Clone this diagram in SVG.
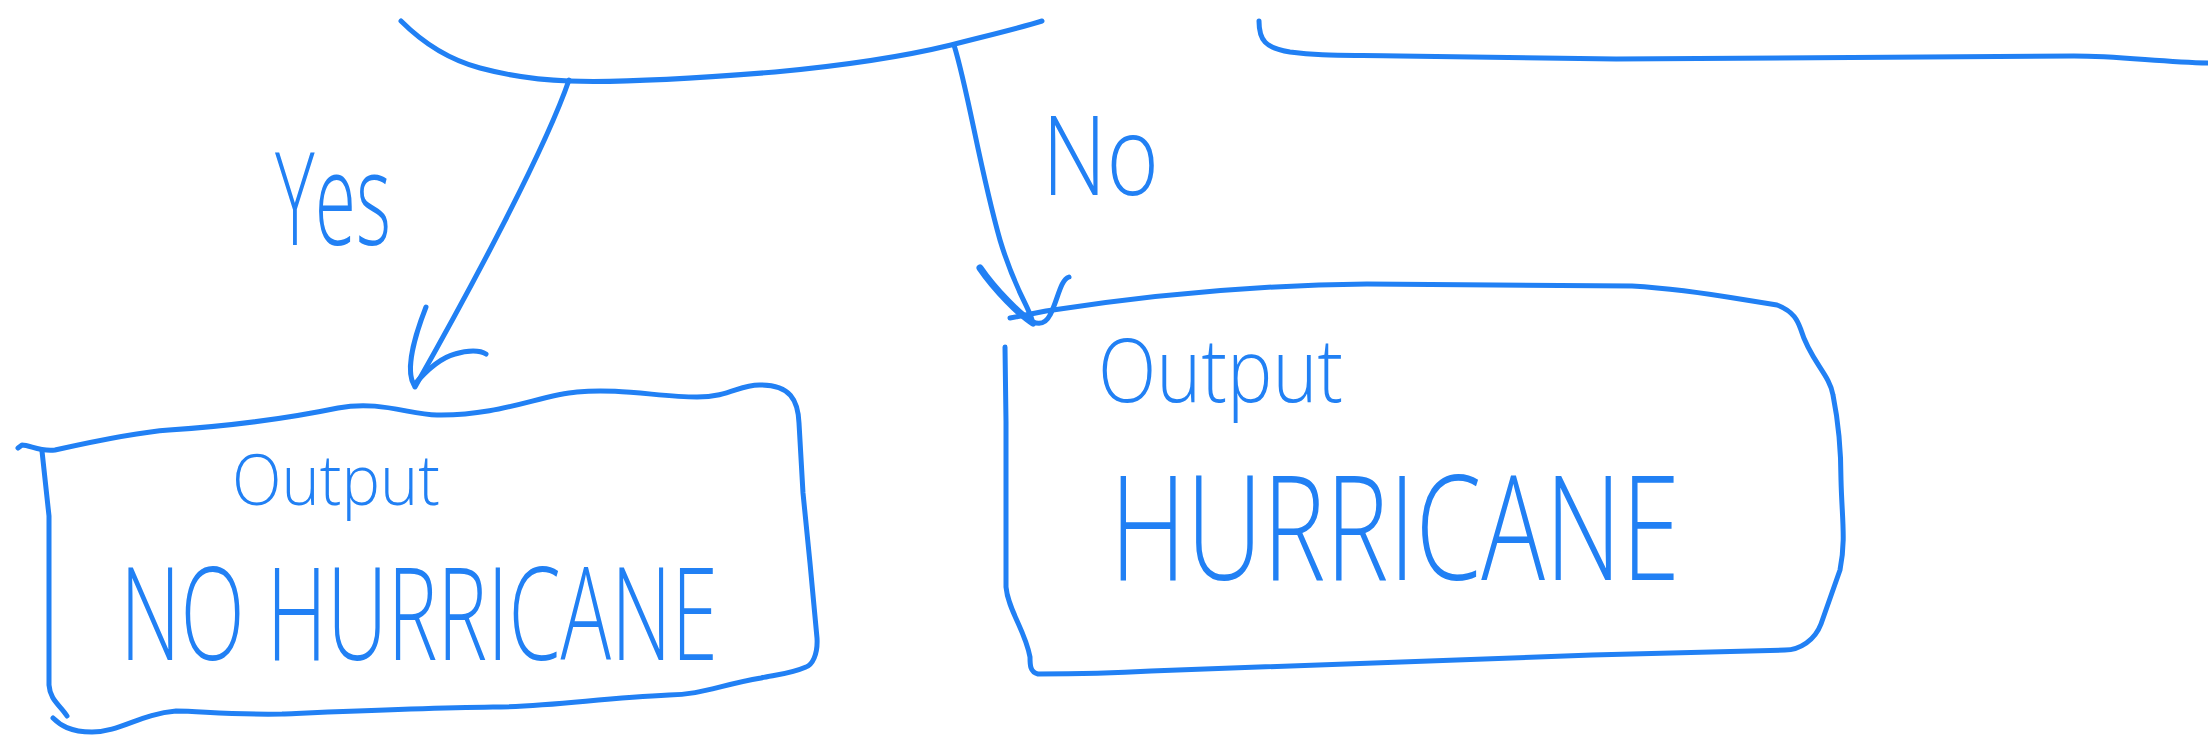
<svg xmlns="http://www.w3.org/2000/svg" width="2208" height="736" viewBox="0 0 2208 736">
<style>
.s{fill:none;stroke:#2180F4;stroke-width:5;stroke-linecap:round;stroke-linejoin:round}
.t{fill:#2180F4;font-family:"Open Sans","Lato","Liberation Sans",sans-serif;font-weight:300}
</style>
<rect width="2208" height="736" fill="#fff"/>
<g id="decision">
<path class="s" d="M401,21 C425,45 450,60 480,68 C510,76 540,80 569,81 C620,83 700,78 775,72 C850,65 910,55 951,45 C990,35 1020,28 1042,21"/>
</g>
<g id="top-right-node">
<path class="s" d="M1259,21 C1259,40 1265,48 1290,52 C1320,56 1340,55 1400,56 L1616,59 L2074,56 C2120,56 2160,62 2208,63"/>
</g>
<g id="connectors">
<path class="s" d="M569,80 C545,150 470,290 415,387"/>
<path class="s" d="M426,307 C415,335 405,370 414,385 C425,372 440,358 455,354 C468,350 480,350 486,354"/>
<path class="s" d="M954,45 C968,90 980,170 1000,240 C1015,290 1028,305 1032,320"/>
<path class="s" d="M980,268 C995,290 1020,315 1033,323" style="stroke-width:7"/>
<path class="s" d="M1069,277 C1060,280 1058,300 1050,315 C1045,325 1038,324 1033,322"/>
<text class="t" x="275" y="245" font-size="130" textLength="116" lengthAdjust="spacingAndGlyphs">Yes</text>
<text class="t" x="1042" y="195" font-size="110" textLength="117" lengthAdjust="spacingAndGlyphs">No</text>
</g>
<g id="no-hurricane">
<path class="s" d="M18,448 L22,445 C30,445 40,452 55,450 C100,440 140,432 169,430 C230,426 280,420 338,408 C380,400 410,415 437,415 C500,416 540,395 577,392 C620,388 660,397 697,397 C730,397 740,384 761,385 C790,385 798,400 799,423 L803,493 L810,563 L817,638 C818,655 812,665 806,667 C790,674 775,675 761,678 C720,685 700,695 669,695 C600,698 550,707 493,707 C420,708 330,712 282,714 C230,715 200,711 176,711 C140,714 120,732 92,732 C70,732 60,725 53,718"/>
<path class="s" d="M67,716 C60,705 50,700 49,685 L49,516 L42,451"/>
<text class="t" x="232" y="505" font-size="70" textLength="208" lengthAdjust="spacingAndGlyphs">Output</text>
<text class="t" x="120" y="660" font-size="130" textLength="598" lengthAdjust="spacingAndGlyphs">NO HURRICANE</text>
</g>
<g id="hurricane">
<path class="s" d="M1010,318 L1046,311 C1150,295 1250,285 1367,284 L1632,286 C1700,290 1740,300 1777,305 C1795,312 1798,322 1801,330 C1810,360 1830,375 1833,395 C1840,430 1841,460 1841,480 C1842,520 1846,540 1840,570 L1821,624 C1815,640 1800,650 1785,650 L1592,655 L1151,671 C1100,674 1060,674 1038,674 C1030,672 1030,665 1030,657 C1025,630 1008,610 1006,587 L1006,422 L1005,347"/>
<text class="t" x="1098" y="402" font-size="88" textLength="245" lengthAdjust="spacingAndGlyphs">Output</text>
<text class="t" x="1110" y="580" font-size="145" textLength="570" lengthAdjust="spacingAndGlyphs">HURRICANE</text>
</g>
</svg>
